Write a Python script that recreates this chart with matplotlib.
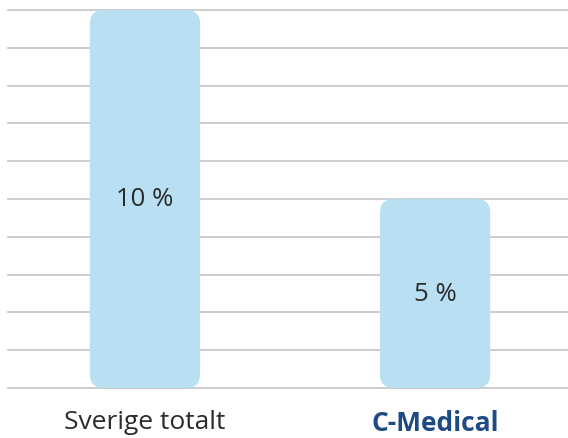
import matplotlib
matplotlib.use("Agg")
import matplotlib.pyplot as plt
from matplotlib.patches import FancyBboxPatch

categories = ["Sverige totalt", "C-Medical"]
values = [10, 5]
value_labels = ["10 %", "5 %"]

BAR_COLOR = "#b8e0f2"
GRID_COLOR = "#c9c9c9"
TEXT_COLOR = "#2b2b2b"
HIGHLIGHT = "#1e4a86"

plt.rcParams['font.family'] = ['Open Sans', 'DejaVu Sans']

fig = plt.figure(figsize=(5.68, 4.39), dpi=100)
ax = fig.add_axes([8 / 568, 50 / 439, 560 / 568, 378 / 439])

ax.set_xlim(-0.472, 1.458)
ax.set_ylim(0, 10)

# horizontal grid at every percent
for g in range(0, 11):
    ax.axhline(g, color=GRID_COLOR, linewidth=1.3, zorder=1, clip_on=False)

width = 0.38
r = 0.048
aspect = (12 / 37.8) / (12 / 290)
for i, (v, lab) in enumerate(zip(values, value_labels)):
    patch = FancyBboxPatch((i - width / 2, 0), width, v,
                           boxstyle=f"round,pad=0,rounding_size={r}",
                           mutation_aspect=aspect,
                           facecolor=BAR_COLOR, edgecolor="none", zorder=2)
    ax.add_patch(patch)
    ax.text(i, v / 2, lab, ha="center", va="center", fontsize=18.5,
            color=TEXT_COLOR, zorder=3)

ax.set_xticks(range(len(categories)))
ax.set_xticklabels(categories, fontsize=19)
ax.tick_params(axis="x", length=0, pad=15)
ax.set_yticks([])
for s in ax.spines.values():
    s.set_visible(False)

ticks = ax.get_xticklabels()
ticks[0].set_color(TEXT_COLOR)
ticks[1].set_color(HIGHLIGHT)
ticks[1].set_fontweight("bold")

fig.savefig("out.png", dpi=100)
